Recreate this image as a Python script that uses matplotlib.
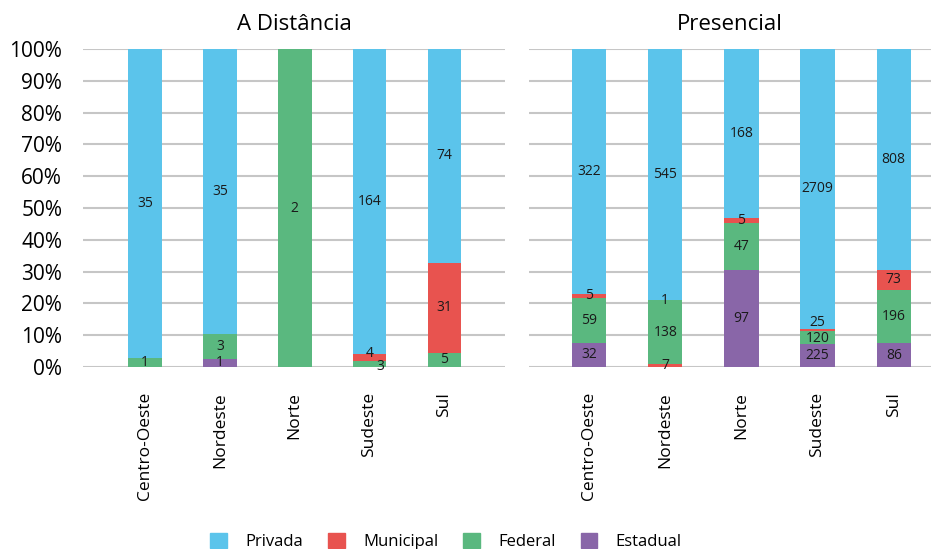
import numpy as np
import matplotlib.pyplot as plt
from matplotlib.patches import Patch

plt.rcParams['font.family'] = ['Open Sans', 'DejaVu Sans']

regioes = ['Centro-Oeste', 'Nordeste', 'Norte', 'Sudeste', 'Sul']

# A Distância
dist_estadual = [0, 1, 0, 0, 0]
dist_federal = [1, 3, 2, 3, 5]
dist_municipal = [0, 0, 0, 4, 31]
dist_privada = [35, 35, 0, 164, 74]

# Presencial
pres_estadual = [32, 1, 97, 225, 86]
pres_federal = [59, 138, 47, 120, 196]
pres_municipal = [5, 7, 5, 25, 73]
pres_privada = [322, 545, 168, 2709, 808]

cores = {'Privada': '#5BC4EB', 'Municipal': '#E8534F',
         'Federal': '#5AB87F', 'Estadual': '#8966A8'}

ordem_padrao = ['Estadual', 'Federal', 'Municipal', 'Privada']
# Nordeste presencial foi empilhado em outra ordem na planilha
ordem_especial = {('Presencial', 1): ['Municipal', 'Federal', 'Estadual', 'Privada']}

# deslocamento (dx, dy em %) dos rótulos de fatias muito finas
ajuste_rotulo = {('A Distância', 3, 'Municipal'): (0.0, 1.2),
                 ('A Distância', 3, 'Federal'): (0.15, -0.6),
                 ('Presencial', 3, 'Municipal'): (0.0, 2.4),
                 ('Presencial', 3, 'Federal'): (0.0, -0.4)}

paineis = [
    ('A Distância', {'Estadual': dist_estadual, 'Federal': dist_federal,
                     'Municipal': dist_municipal, 'Privada': dist_privada}),
    ('Presencial', {'Estadual': pres_estadual, 'Federal': pres_federal,
                    'Municipal': pres_municipal, 'Privada': pres_privada}),
]

fig = plt.figure(figsize=(9.31, 5.49), dpi=100)
ax1 = fig.add_axes([0.0892, 0.3315, 0.4533, 0.5792])
ax2 = fig.add_axes([0.5682, 0.3315, 0.4318, 0.5792])
limites = [(-0.827, 4.81), (-0.79, 4.49)]

x = np.arange(len(regioes))
largura = 0.45

for ax, (titulo, series), lim in zip([ax1, ax2], paineis, limites):
    totais = np.sum([series[k] for k in ordem_padrao], axis=0)
    for i in x:
        ordem = ordem_especial.get((titulo, i), ordem_padrao)
        base = 0.0
        for nome in ordem:
            v = series[nome][i]
            if v == 0:
                continue
            h = v / totais[i] * 100
            ax.bar(i, h, largura, bottom=base, color=cores[nome], zorder=2)
            dx, dy = ajuste_rotulo.get((titulo, i, nome), (0.0, 0.0))
            ax.text(i + dx, base + h / 2 + dy, str(v), ha='center', va='center',
                    fontsize=10, color='#1a1a1a', zorder=3)
            base += h
    ax.set_xlim(*lim)
    ax.set_ylim(0, 100)
    ax.set_yticks(np.arange(0, 101, 10))
    ax.set_xticks(x)
    ax.set_xticklabels(regioes, rotation=90, fontsize=12.5)
    ax.yaxis.grid(True, color='#C6C6C6', linewidth=1.5, zorder=0)
    ax.set_axisbelow(True)
    for s in ax.spines.values():
        s.set_visible(False)
    ax.tick_params(axis='x', length=0, pad=18)
    ax.set_title(titulo, fontsize=16, pad=14)

ax1.set_yticklabels([f'{v}%' for v in range(0, 101, 10)], fontsize=15)
ax1.tick_params(axis='y', length=0, pad=15)
ax2.tick_params(axis='y', length=0)
ax2.set_yticklabels([])

handles = [Patch(color=cores[k]) for k in ['Privada', 'Municipal', 'Federal', 'Estadual']]
fig.legend(handles, ['Privada', 'Municipal', 'Federal', 'Estadual'],
           loc='lower center', bbox_to_anchor=(0.479, -0.03), ncol=4,
           frameon=False, fontsize=12, handlelength=1.0, handleheight=1.0,
           handletextpad=1.1, columnspacing=1.5)

fig.savefig('out.png', dpi=100)
